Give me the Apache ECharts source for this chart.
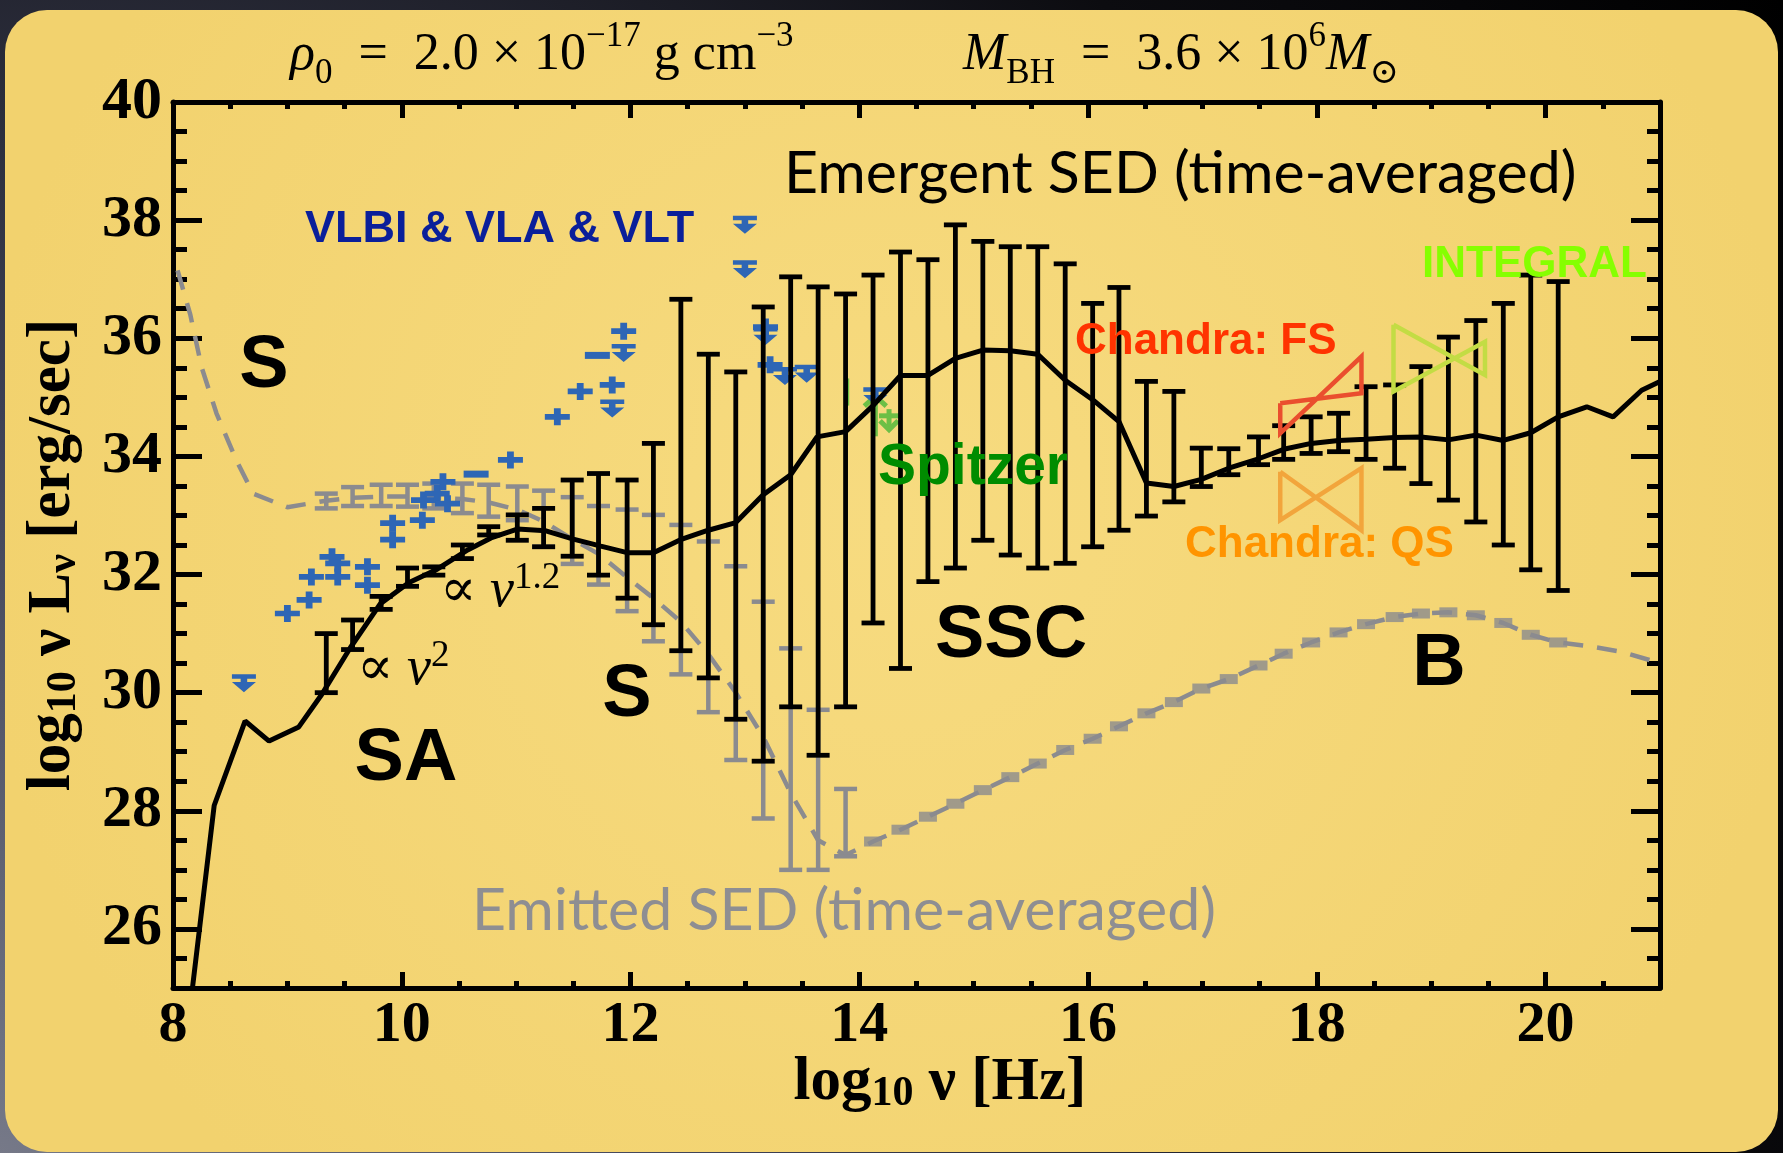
<!DOCTYPE html>
<html>
<head>
<meta charset="utf-8">
<script src="https://cdn.jsdelivr.net/npm/echarts@6/dist/echarts.min.js"></script>
<style>
html,body{margin:0;padding:0;width:1783px;height:1153px;overflow:hidden;
background:radial-gradient(circle at 0% 100%, #767988 0%, #3d4054 35%, #0c0c10 75%, #000 100%);}
#c{width:1783px;height:1153px;}
</style>
</head>
<body>
<div id="c"></div>
<script>
// ---------------- data ----------------
const xTickLabels = [8, 10, 12, 14, 16, 18, 20];
const yTickLabels = [26, 28, 30, 32, 34, 36, 38, 40];

// error-bar abscissae (log10 nu)
const barX = [9.34, 9.57, 9.82, 10.05, 10.28, 10.53, 10.76, 11.01, 11.24, 11.49, 11.72, 11.97, 12.20, 12.44, 12.68, 12.92, 13.16, 13.40, 13.64, 13.88,
              14.12, 14.36, 14.60, 14.84, 15.08, 15.32, 15.56, 15.80, 16.04, 16.27, 16.51, 16.75, 16.99, 17.23, 17.49, 17.71, 17.95, 18.19, 18.43, 18.68,
              18.91, 19.15, 19.39, 19.63, 19.87, 20.11];
// emergent SED error-bar ranges
const emergentLow  = [30.00, 30.73, 31.41, 31.80, 31.99, 32.27, 32.67, 32.58, 32.47, 32.31, 31.99, 31.60, 31.15, 30.71, 30.25, 29.55, 28.84, 29.76, 28.94, 29.76,
                      31.18, 30.41, 31.88, 32.11, 32.58, 32.33, 32.11, 32.19, 32.47, 32.75, 32.99, 33.23, 33.49, 33.69, 33.86, 33.95, 34.05, 34.08, 33.95, 33.80,
                      33.54, 33.26, 32.89, 32.50, 32.08, 31.73];
const emergentHigh = [31.00, 31.23, 31.63, 32.11, 32.13, 32.50, 32.81, 33.01, 33.12, 33.60, 33.71, 33.60, 34.22, 36.66, 35.73, 35.43, 36.53, 37.04, 36.87, 36.75,
                      37.07, 37.46, 37.33, 37.92, 37.64, 37.55, 37.55, 37.26, 36.59, 36.86, 35.27, 35.10, 34.14, 34.13, 34.33, 34.52, 34.67, 34.73, 35.18, 35.21,
                      35.52, 36.02, 36.30, 36.59, 37.07, 36.96];
// emitted SED error-bar ranges (first 20 abscissae)
const emittedLow  = [33.12, 33.16, 33.16, 33.15, 33.12, 33.04, 32.98, 32.92, 32.47, 32.18, 31.83, 31.38, 30.87, 30.31, 29.67, 28.86, 27.87, 27.00, 27.00, 27.23];
const emittedHigh = [33.37, 33.48, 33.52, 33.52, 33.54, 33.54, 33.52, 33.49, 33.42, 33.31, 33.16, 33.10, 33.01, 32.84, 32.56, 32.14, 31.54, 30.75, 29.71, 28.37];

// emergent SED curve (time averaged)
const emergentX = [8.17, 8.36, 8.63, 8.84, 9.10, 9.30, 9.55, 9.81, 10.06, 10.31, 10.58, 10.78, 11.01, 11.26, 11.50, 11.74, 11.97, 12.20, 12.45, 12.68,
                   12.92, 13.16, 13.40, 13.63, 13.88, 14.12, 14.36, 14.60, 14.84, 15.08, 15.32, 15.56, 15.80, 16.04, 16.27, 16.51, 16.75, 16.99, 17.23, 17.49,
                   17.71, 17.95, 18.19, 18.43, 18.68, 18.91, 19.15, 19.39, 19.63, 19.87, 20.11, 20.36, 20.59, 20.84, 21.00];
const emergentY = [25.00, 28.09, 29.52, 29.18, 29.42, 29.97, 30.76, 31.50, 31.86, 32.09, 32.42, 32.62, 32.77, 32.74, 32.60, 32.48, 32.37, 32.37, 32.60, 32.75,
                   32.88, 33.35, 33.69, 34.33, 34.42, 34.86, 35.37, 35.37, 35.66, 35.80, 35.79, 35.73, 35.29, 34.96, 34.59, 33.55, 33.49, 33.61, 33.80, 33.96,
                   34.12, 34.22, 34.27, 34.29, 34.32, 34.33, 34.28, 34.36, 34.27, 34.40, 34.67, 34.84, 34.67, 35.12, 35.27];

// emitted SED curve (time averaged)
const emittedX = [8.04, 8.15, 8.25, 8.38, 8.55, 8.70, 9.00, 9.34, 9.57, 9.82, 10.05, 10.28, 10.53, 10.76, 11.01, 11.24, 11.49, 11.72, 11.97, 12.20,
                  12.44, 12.68, 12.92, 13.16, 13.40, 13.64, 13.88, 14.12, 14.36, 14.60, 14.84, 15.08, 15.32, 15.56, 15.80, 16.04, 16.27, 16.51, 16.75, 16.99,
                  17.23, 17.49, 17.71, 17.95, 18.19, 18.43, 18.68, 18.91, 19.15, 19.39, 19.63, 19.87, 20.11, 20.37, 20.67, 21.00];
const emittedY = [37.15, 36.41, 35.51, 34.73, 33.95, 33.37, 33.14, 33.25, 33.30, 33.32, 33.32, 33.30, 33.28, 33.22, 33.10, 32.90, 32.60, 32.35, 31.95, 31.60,
                  31.20, 30.65, 30.00, 29.25, 28.30, 27.50, 27.25, 27.48, 27.68, 27.90, 28.12, 28.35, 28.57, 28.80, 29.03, 29.22, 29.43, 29.65, 29.84, 30.07,
                  30.23, 30.46, 30.66, 30.85, 31.02, 31.16, 31.28, 31.34, 31.36, 31.31, 31.18, 30.98, 30.85, 30.79, 30.69, 30.50];

// observations: VLBI & VLA & VLT (p = point, a = upper limit, d = dash)
const obsX    = [8.62, 9.00, 9.19, 9.21, 9.39, 9.44, 9.44, 9.70, 9.70, 9.92, 9.92, 10.18, 10.19, 10.31, 10.36, 10.40, 10.65, 10.95, 11.36, 11.56,
                 11.84, 11.84, 11.71, 11.94, 11.94, 13.00, 13.00, 13.18, 13.18, 13.22, 13.35, 13.54, 14.14];
const obsY    = [30.16, 31.34, 31.57, 31.96, 32.30, 32.19, 31.96, 32.13, 31.82, 32.87, 32.59, 32.92, 33.26, 33.37, 33.57, 33.20, 33.70, 33.94, 34.67, 35.10,
                 35.21, 34.81, 35.71, 36.12, 35.75, 37.92, 37.17, 36.19, 36.04, 35.55, 35.36, 35.40, 35.02];
const obsKind = ['a', 'p', 'p', 'p', 'p', 'p', 'p', 'p', 'p', 'p', 'p', 'p', 'p', 'p', 'p', 'p', 'd', 'p', 'p', 'p',
                 'p', 'a', 'd', 'p', 'a', 'a', 'a', 'p', 'a', 'p', 'a', 'a', 'a'];

// X-ray / gamma bow-ties
const chandraFSX = [17.68, 18.39, 18.39, 17.68];
const chandraFSY = [34.90, 35.07, 35.69, 34.39];
const chandraQSX = [17.68, 18.39, 18.39, 17.68];
const chandraQSY = [33.74, 32.75, 33.80, 32.92];
const integralX  = [18.67, 19.47, 19.47, 18.67];
const integralY  = [36.23, 35.38, 35.94, 35.10];

// Spitzer: vertical range and arrows
const spitzerBarX = [13.89];
const spitzerBarLow = [34.86];
const spitzerBarHigh = [35.32];
const spitzerArrowX = [14.14, 14.26];
const spitzerArrowTop = [35.02, 34.80];
const spitzerArrowBottom = [34.34, 34.45];

// ---------------- chart ----------------
const chart = echarts.init(document.getElementById('c'), null, {renderer: 'canvas'});

const GRAY = '#8b8b8f';
const SERIF = '"Liberation Serif", "DejaVu Serif", serif';
const SANS = '"Liberation Sans", Arial, sans-serif';

function pairs(xs, ys) { return xs.map((x, i) => [x, ys[i]]); }
function closed(xs, ys) { const p = pairs(xs, ys); p.push(p[0]); return p; }

function errRender(color, capW, lw) {
  return function (params, api) {
    const x = api.value(0), lo = api.value(1), hi = api.value(2);
    const p1 = api.coord([x, lo]), p2 = api.coord([x, hi]);
    const st = {stroke: color, lineWidth: lw, fill: null};
    return {type: 'group', children: [
      {type: 'line', shape: {x1: p1[0], y1: p1[1], x2: p2[0], y2: p2[1]}, style: st},
      {type: 'line', shape: {x1: p1[0] - capW / 2, y1: p1[1], x2: p1[0] + capW / 2, y2: p1[1]}, style: st},
      {type: 'line', shape: {x1: p2[0] - capW / 2, y1: p2[1], x2: p2[0] + capW / 2, y2: p2[1]}, style: st}
    ]};
  };
}

const minorX = [], minorY = [];
for (let v = 8; v <= 21.001; v += 0.5) minorX.push(+v.toFixed(1));
for (let v = 25; v <= 40.001; v += 0.5) minorY.push(+v.toFixed(1));

function xAxisDef(pos, vals, len, withLine, withLabel) {
  return {
    type: 'value', min: 8, max: 21, position: pos, gridIndex: 0,
    axisLine: {show: withLine, onZero: false, lineStyle: {color: '#000', width: 5}},
    axisTick: {show: true, inside: true, length: len, customValues: vals, lineStyle: {color: '#000', width: 5}},
    axisLabel: withLabel ? {show: true, customValues: xTickLabels, color: '#000', fontFamily: SERIF, fontWeight: 'bold', fontSize: 58, margin: 9} : {show: false},
    splitLine: {show: false}, minorTick: {show: false}
  };
}
function yAxisDef(pos, vals, len, withLine, withLabel) {
  return {
    type: 'value', min: 25, max: 40, position: pos, gridIndex: 0,
    axisLine: {show: withLine, onZero: false, lineStyle: {color: '#000', width: 5}},
    axisTick: {show: true, inside: true, length: len, customValues: vals, lineStyle: {color: '#000', width: 5}},
    axisLabel: withLabel ? {show: true, customValues: yTickLabels, color: '#000', fontFamily: SERIF, fontWeight: 'bold', fontSize: 60, margin: 11, padding: [0, 0, 10, 0]} : {show: false},
    splitLine: {show: false}, minorTick: {show: false}
  };
}

const blueSym = {
  p: 'path://M0,5L22,5L22,10L0,10Z M8,0L14,0L14,15L8,15Z',
  a: 'path://M0,0L22,0L22,4L14,4L14,7L22,7L11,16L0,7L8,7L8,4L0,4Z',
  d: 'rect'
};
function obsSeries(kind, size) {
  const data = [];
  obsX.forEach((x, i) => { if (obsKind[i] === kind) data.push([x, obsY[i]]); });
  return {type: 'scatter', data: data, symbol: blueSym[kind], symbolSize: size, symbolKeepAspect: false,
          itemStyle: {color: '#2e66b5', opacity: 1}, silent: true, z: 4};
}

const blockData = [];
emittedX.forEach((x, i) => { if (x > 14.0 && x < 20.2) blockData.push([x, emittedY[i]]); });

function bowtie(xs, ys, color) {
  return {type: 'line', data: closed(xs, ys), symbol: 'none', silent: true, z: 6,
          lineStyle: {color: color, width: 4.5, join: 'miter'}};
}

function richText(x, y, text, rich, align, extra) {
  return Object.assign({type: 'text', x: x, y: y, z: 100,
    style: {text: text, rich: rich, align: align, verticalAlign: 'top', textAlign: align, textVerticalAlign: 'top'}}, extra || {});
}
function label(x, y, text, color, size, family, weight, align) {
  return {type: 'text', x: x, y: y, z: 100,
    style: {text: text, fill: color, fontSize: size, fontFamily: family, fontWeight: weight || 'normal',
            align: align || 'left', verticalAlign: 'middle', textAlign: align || 'left', textVerticalAlign: 'middle'}};
}

const mathRich = {
  r:   {fontFamily: SERIF, fontSize: 52, lineHeight: 72, color: '#000'},
  it:  {fontFamily: SERIF, fontStyle: 'italic', fontSize: 52, lineHeight: 72, color: '#000'},
  sup: {fontFamily: SERIF, fontSize: 35, lineHeight: 36, verticalAlign: 'top', color: '#000'},
  sub: {fontFamily: SERIF, fontSize: 35, lineHeight: 46, verticalAlign: 'bottom', color: '#000'}
};
const propRich = {
  r:   {fontFamily: SERIF, fontSize: 54, lineHeight: 64, color: '#000'},
  it:  {fontFamily: SERIF, fontStyle: 'italic', fontSize: 54, lineHeight: 64, color: '#000'},
  sup: {fontFamily: SERIF, fontSize: 37, lineHeight: 30, verticalAlign: 'top', color: '#000'}
};
const titleRich = {
  b: {fontFamily: SERIF, fontWeight: 'bold', fontSize: 61, lineHeight: 64, color: '#000'},
  s: {fontFamily: SERIF, fontWeight: 'bold', fontSize: 42, lineHeight: 30, verticalAlign: 'bottom', color: '#000'}
};

const option = {
  animation: false,
  backgroundColor: 'transparent',
  grid: {left: 173, top: 102, width: 1487, height: 886, containLabel: false, outerBoundsMode: 'none'},
  xAxis: [
    xAxisDef('bottom', xTickLabels, 16, true, true),
    xAxisDef('bottom', minorX, 7, false, false),
    xAxisDef('top', xTickLabels, 16, true, false),
    xAxisDef('top', minorX, 7, false, false)
  ],
  yAxis: [
    yAxisDef('left', yTickLabels, 29, true, true),
    yAxisDef('left', minorY, 14, false, false),
    yAxisDef('right', yTickLabels, 29, true, false),
    yAxisDef('right', minorY, 13, false, false)
  ],
  graphic: [
    {type: 'rect', z: -100, silent: true, shape: {x: 5, y: 10, width: 1773, height: 1142, r: 42},
     style: {fill: {type: 'radial', x: 0.5, y: 0.45, r: 0.8, colorStops: [{offset: 0, color: '#F7DB80'}, {offset: 1, color: '#F2D26E'}]}}},
    // header math
    richText(290, 19, '{it|ρ}{sub|0}{r|  =  2.0 × 10}{sup|−17}{r| g cm}{sup|−3}', mathRich, 'left'),
    richText(963, 19, '{it|M}{sub|BH}{r|  =  3.6 × 10}{sup|6}{it|M}{sub|⊙}', mathRich, 'left'),
    // power-law annotations
    richText(440, 560, '{r|∝ }{it|ν}{sup|1.2}', propRich, 'left'),
    richText(357, 638, '{r|∝ }{it|ν}{sup|2}', propRich, 'left'),
    // axis titles
    richText(940, 1051, '{b|log}{s|10}{b| ν [Hz]}', titleRich, 'center'),
    richText(21, 555, '{b|log}{s|10}{b| ν L}{s|ν}{b| [erg/sec]}', titleRich, 'center', {rotation: Math.PI / 2}),
    // labels
    label(784, 174, 'Emergent SED (time-averaged)', '#000', 59, 'Lato, "Open Sans", sans-serif'),
    label(472, 911, 'Emitted SED (time-averaged)', '#8e8e92', 59, 'Lato, "Open Sans", sans-serif'),
    label(305, 230, 'VLBI & VLA & VLT', '#0a1f9a', 45, SANS, 'bold'),
    label(264, 367, 'S', '#000', 74, SANS, 'bold', 'center'),
    label(406, 760, 'SA', '#000', 74, SANS, 'bold', 'center'),
    label(627, 696, 'S', '#000', 74, SANS, 'bold', 'center'),
    label(1011, 637, 'SSC', '#000', 74, SANS, 'bold', 'center'),
    label(1439, 665, 'B', '#000', 74, SANS, 'bold', 'center'),
    label(878, 468, 'Spitzer', '#008c00', 57, SANS, 'bold'),
    label(1075, 342, 'Chandra: FS', '#ff3300', 44, SANS, 'bold'),
    label(1185, 545, 'Chandra: QS', '#ff9400', 44, SANS, 'bold'),
    label(1422, 265, 'INTEGRAL', '#86ff00', 44, SANS, 'bold')
  ],
  series: [
    {type: 'line', name: 'emitted', data: pairs(emittedX, emittedY), symbol: 'none', silent: true, z: 2,
     lineStyle: {color: GRAY, width: 4.5, type: [20, 14]}},
    {type: 'scatter', name: 'emittedBlocks', data: blockData, symbol: 'rect', symbolSize: [18, 10], silent: true, z: 2,
     itemStyle: {color: GRAY}},
    {type: 'custom', name: 'emittedBars', data: barX.slice(0, emittedLow.length).map((x, i) => [x, emittedLow[i], emittedHigh[i]]),
     renderItem: errRender(GRAY, 23, 4.5), encode: {x: 0, y: [1, 2]}, silent: true, z: 3, clip: true},
    obsSeries('p', [25, 17]),
    obsSeries('a', [24, 18]),
    obsSeries('d', [25, 7]),
    {type: 'line', name: 'emergent', data: pairs(emergentX, emergentY), symbol: 'none', silent: true, z: 5,
     lineStyle: {color: '#000', width: 5}},
    {type: 'custom', name: 'emergentBars', data: barX.map((x, i) => [x, emergentLow[i], emergentHigh[i]]),
     renderItem: errRender('#000', 23, 4.8), encode: {x: 0, y: [1, 2]}, silent: true, z: 5, clip: true},
    bowtie(chandraFSX, chandraFSY, '#ea4e2e'),
    bowtie(chandraQSX, chandraQSY, '#f2a53c'),
    bowtie(integralX, integralY, '#c3dc44'),
    {type: 'custom', name: 'spitzer', silent: true, z: 4,
     data: spitzerArrowX.map((x, i) => [x, spitzerArrowBottom[i], spitzerArrowTop[i], i]),
     encode: {x: 0, y: [1, 2]},
     renderItem: function (params, api) {
       const x = api.value(0), lo = api.value(1), hi = api.value(2), k = api.value(3);
       const a = api.coord([x, lo]), b = api.coord([x, hi]);
       const st = {stroke: '#6cbf46', lineWidth: 5, fill: null};
       const kids = [{type: 'line', shape: {x1: a[0], y1: a[1], x2: b[0], y2: b[1]}, style: st}];
       if (k === 0) {
         kids.push({type: 'polyline', shape: {points: [[b[0] - 11, b[1] + 10], [b[0], b[1]], [b[0] + 11, b[1] + 10]]}, style: st});
         const c = api.coord([spitzerBarX[0], spitzerBarLow[0]]), d = api.coord([spitzerBarX[0], spitzerBarHigh[0]]);
         kids.push({type: 'line', shape: {x1: c[0], y1: c[1], x2: d[0], y2: d[1]}, style: st});
       } else {
         kids.push({type: 'polyline', shape: {points: [[a[0] - 9, a[1] - 9], [a[0], a[1]], [a[0] + 9, a[1] - 9]]}, style: st});
         kids.push({type: 'line', shape: {x1: a[0] - 10, y1: a[1] - 14, x2: a[0] + 12, y2: a[1] - 14}, style: st});
       }
       return {type: 'group', children: kids};
     }}
  ]
};
chart.setOption(option);
</script>
</body>
</html>
